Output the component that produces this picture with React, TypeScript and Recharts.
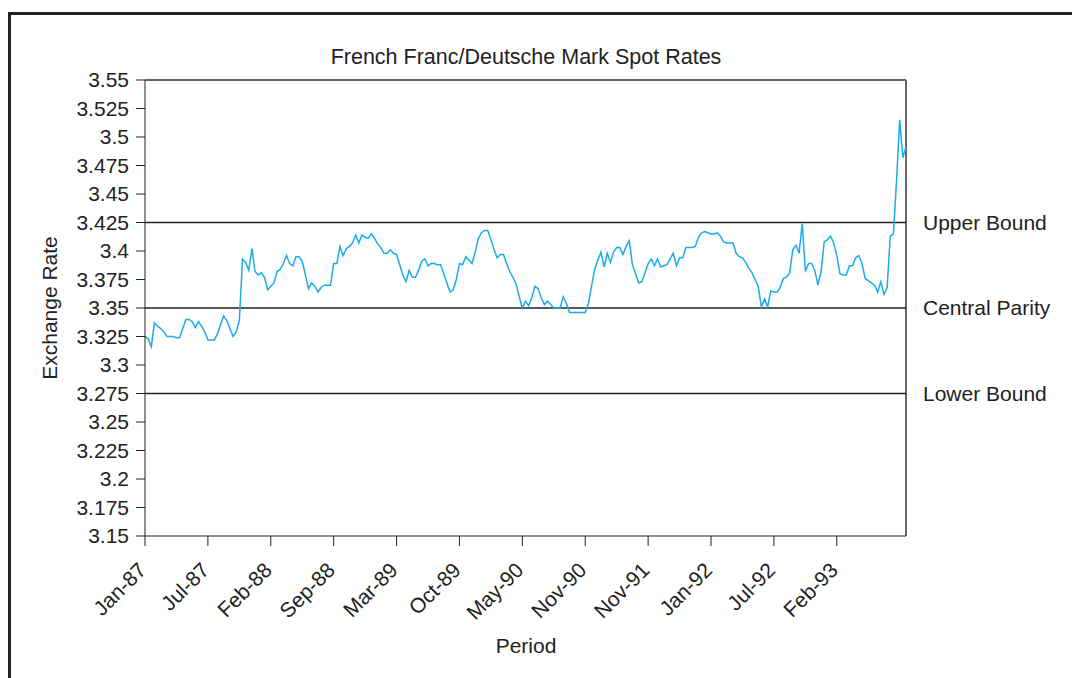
import React from 'react'
import { LineChart, Line, XAxis, YAxis, ReferenceLine } from 'recharts'

// weekly-ish FF/DM spot rates, one point per step
const rates = [
  3.325, 3.323, 3.316, 3.337, 3.334, 3.332, 3.329, 3.325, 3.325, 3.325,
  3.324, 3.324, 3.332, 3.340, 3.340, 3.338, 3.333, 3.338, 3.334, 3.329,
  3.322, 3.322, 3.322, 3.327, 3.335, 3.343, 3.339, 3.332, 3.325, 3.329,
  3.339, 3.393, 3.390, 3.383, 3.402, 3.382, 3.379, 3.381, 3.377, 3.366,
  3.369, 3.372, 3.382, 3.384, 3.389, 3.396, 3.389, 3.387, 3.395, 3.395,
  3.391, 3.379, 3.367, 3.372, 3.369, 3.364, 3.368, 3.370, 3.370, 3.370,
  3.389, 3.389, 3.404, 3.396, 3.402, 3.404, 3.407, 3.414, 3.407, 3.414,
  3.412, 3.411, 3.415, 3.411, 3.406, 3.403, 3.398, 3.398, 3.401, 3.398,
  3.397, 3.388, 3.379, 3.373, 3.383, 3.377, 3.377, 3.383, 3.391, 3.393,
  3.387, 3.389, 3.389, 3.388, 3.388, 3.380, 3.372, 3.364, 3.366, 3.375,
  3.389, 3.388, 3.395, 3.392, 3.389, 3.399, 3.411, 3.416, 3.418, 3.418,
  3.410, 3.401, 3.394, 3.397, 3.397, 3.389, 3.382, 3.377, 3.371, 3.360,
  3.350, 3.356, 3.352, 3.359, 3.369, 3.367, 3.359, 3.353, 3.356, 3.353,
  3.350, 3.350, 3.350, 3.360, 3.354, 3.346, 3.346, 3.346, 3.346, 3.346,
  3.346, 3.354, 3.369, 3.384, 3.392, 3.399, 3.386, 3.398, 3.390, 3.399,
  3.403, 3.403, 3.397, 3.404, 3.409, 3.388, 3.380, 3.372, 3.373, 3.381,
  3.389, 3.393, 3.387, 3.393, 3.386, 3.387, 3.388, 3.393, 3.398, 3.387,
  3.394, 3.394, 3.403, 3.403, 3.403, 3.404, 3.412, 3.416, 3.417, 3.416,
  3.415, 3.415, 3.416, 3.413, 3.408, 3.407, 3.407, 3.407, 3.398, 3.395,
  3.394, 3.390, 3.385, 3.381, 3.375, 3.369, 3.351, 3.358, 3.351, 3.365,
  3.364, 3.364, 3.368, 3.376, 3.377, 3.381, 3.401, 3.405, 3.398, 3.424,
  3.382, 3.389, 3.389, 3.383, 3.370, 3.382, 3.408, 3.410, 3.413, 3.407,
  3.396, 3.380, 3.379, 3.379, 3.387, 3.387, 3.394, 3.396, 3.389, 3.376,
  3.374, 3.372, 3.370, 3.364, 3.373, 3.362, 3.368, 3.413, 3.415, 3.462,
  3.515, 3.482, 3.491,
]

const periodLabels = ['Jan-87', 'Jul-87', 'Feb-88', 'Sep-88', 'Mar-89', 'Oct-89', 'May-90', 'Nov-90', 'Nov-91', 'Jan-92', 'Jul-92', 'Feb-93']
const periodTicks = [0, 20, 40, 60, 80, 100, 120, 140, 160, 180, 200, 220]

const rateTicks = [3.15, 3.175, 3.2, 3.225, 3.25, 3.275, 3.3, 3.325, 3.35, 3.375, 3.4, 3.425, 3.45, 3.475, 3.5, 3.525, 3.55]

const upperBound = 3.425
const centralParity = 3.35
const lowerBound = 3.275

const data = rates.map((rate, i) => ({ i, rate }))

const ink = '#222'
const font = "'Liberation Sans', Arial, Helvetica, sans-serif"

// slanted period label, top-right corner sitting just under its tick
function PeriodTick(props: any) {
  const { x, y, payload } = props
  const tx = x - 8
  const ty = y + 11
  return (
    <text x={tx} y={ty} dy="0.71em" textAnchor="end" fill={ink} fontSize={21} transform={`rotate(-45, ${tx}, ${ty})`}>
      {periodLabels[periodTicks.indexOf(payload.value)] ?? ''}
    </text>
  )
}

export default function App() {
  const boundLabel = (value: string) => ({ value, position: 'right' as const, offset: 17, fill: ink, fontSize: 21 })

  return (
    <div style={{ position: 'absolute', left: 0, top: 0, width: 1072, height: 678, background: '#fff', overflow: 'hidden', fontFamily: font, color: ink }}>
      <div style={{ position: 'absolute', left: 8, top: 12, width: 1200, height: 800, borderLeft: `3px solid ${ink}`, borderTop: `3px solid ${ink}` }} />

      <div style={{ position: 'absolute', left: 526, top: 57, transform: 'translate(-50%, -50%)', fontSize: 21.5, whiteSpace: 'nowrap' }}>
        French Franc/Deutsche Mark Spot Rates
      </div>
      <div style={{ position: 'absolute', left: 50, top: 308, transform: 'translate(-50%, -50%) rotate(-90deg)', fontSize: 21, whiteSpace: 'nowrap' }}>
        Exchange Rate
      </div>
      <div style={{ position: 'absolute', left: 526, top: 646, transform: 'translate(-50%, -50%)', fontSize: 21, whiteSpace: 'nowrap' }}>
        Period
      </div>

      <div style={{ position: 'absolute', left: 0, top: 0 }}>
        <LineChart width={1072} height={678} data={data} margin={{ top: 80, right: 166, bottom: 0, left: 0 }}>
          <XAxis
            dataKey="i"
            type="number"
            domain={[0, 242]}
            ticks={periodTicks}
            height={142}
            interval={0}
            tickSize={10}
            tickMargin={4}
            stroke={ink}
            tick={<PeriodTick />}
          />
          <YAxis
            type="number"
            domain={[3.15, 3.55]}
            ticks={rateTicks}
            interval={0}
            width={145}
            tickSize={9}
            tickMargin={7}
            stroke={ink}
            tick={{ fill: ink, fontSize: 21 }}
          />
          <ReferenceLine y={3.55} stroke="#666" strokeWidth={2} />
          <ReferenceLine x={242} stroke="#666" strokeWidth={2} />
          <ReferenceLine y={upperBound} stroke={ink} strokeWidth={1.5} label={boundLabel('Upper Bound')} />
          <ReferenceLine y={centralParity} stroke={ink} strokeWidth={1.5} label={boundLabel('Central Parity')} />
          <ReferenceLine y={lowerBound} stroke={ink} strokeWidth={1.5} label={boundLabel('Lower Bound')} />
          <Line type="linear" dataKey="rate" stroke="#1aaceb" strokeWidth={1.5} dot={false} isAnimationActive={false} />
        </LineChart>
      </div>
    </div>
  )
}
